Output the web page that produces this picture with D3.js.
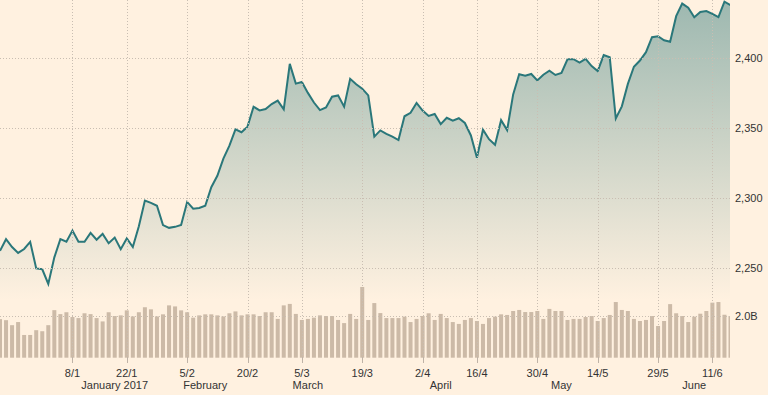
<!DOCTYPE html>
<html>
<head>
<meta charset="utf-8">
<title>S&amp;P 500</title>
<script src="https://cdn.jsdelivr.net/npm/d3@7"></script>
<style>
  html, body { margin: 0; padding: 0; background: #fff1e0; }
  svg { display: block; }
  text { font-family: "Liberation Sans", Arial, sans-serif; font-size: 11px; fill: #333; }
  .grid line { stroke: #c9beb2; stroke-width: 1; stroke-dasharray: 1,2; }
</style>
</head>
<body>
<svg id="chart" width="768" height="395"></svg>
<script>
// trading days shown on the chart
var dates = [
  "2016-12-19","2016-12-20","2016-12-21","2016-12-22","2016-12-23","2016-12-27","2016-12-28","2016-12-29","2016-12-30",
  "2017-01-03","2017-01-04","2017-01-05","2017-01-06","2017-01-09","2017-01-10","2017-01-11","2017-01-12","2017-01-13",
  "2017-01-17","2017-01-18","2017-01-19","2017-01-20","2017-01-23","2017-01-24","2017-01-25","2017-01-26","2017-01-27",
  "2017-01-30","2017-01-31","2017-02-01","2017-02-02","2017-02-03","2017-02-06","2017-02-07","2017-02-08","2017-02-09",
  "2017-02-10","2017-02-13","2017-02-14","2017-02-15","2017-02-16","2017-02-17","2017-02-21","2017-02-22","2017-02-23",
  "2017-02-24","2017-02-27","2017-02-28","2017-03-01","2017-03-02","2017-03-03","2017-03-06","2017-03-07","2017-03-08",
  "2017-03-09","2017-03-10","2017-03-13","2017-03-14","2017-03-15","2017-03-16","2017-03-17","2017-03-20","2017-03-21",
  "2017-03-22","2017-03-23","2017-03-24","2017-03-27","2017-03-28","2017-03-29","2017-03-30","2017-03-31","2017-04-03",
  "2017-04-04","2017-04-05","2017-04-06","2017-04-07","2017-04-10","2017-04-11","2017-04-12","2017-04-13","2017-04-17",
  "2017-04-18","2017-04-19","2017-04-20","2017-04-21","2017-04-24","2017-04-25","2017-04-26","2017-04-27","2017-04-28",
  "2017-05-01","2017-05-02","2017-05-03","2017-05-04","2017-05-05","2017-05-08","2017-05-09","2017-05-10","2017-05-11",
  "2017-05-12","2017-05-15","2017-05-16","2017-05-17","2017-05-18","2017-05-19","2017-05-22","2017-05-23","2017-05-24",
  "2017-05-25","2017-05-26","2017-05-30","2017-05-31","2017-06-01","2017-06-02","2017-06-05","2017-06-06","2017-06-07",
  "2017-06-08","2017-06-09","2017-06-12","2017-06-13","2017-06-14"
];

// index close
var closes = [
  2262.5,2270.8,2265.2,2261.0,2263.8,2268.9,2249.9,2249.3,2238.8,
  2257.8,2270.8,2269.0,2277.0,2268.9,2268.9,2275.3,2270.4,2274.6,
  2267.9,2271.9,2263.7,2271.3,2265.2,2280.1,2298.4,2296.7,2294.7,
  2280.9,2278.9,2279.6,2280.9,2297.4,2292.6,2293.1,2294.7,2307.9,
  2316.1,2328.3,2337.6,2349.3,2347.2,2351.2,2365.4,2362.8,2363.8,
  2367.3,2369.8,2363.6,2396.0,2381.9,2383.1,2375.3,2368.4,2363.0,
  2364.9,2372.6,2373.5,2365.5,2385.3,2381.4,2378.3,2373.5,2344.0,
  2348.5,2346.0,2344.0,2341.6,2358.6,2361.1,2368.1,2362.7,2358.8,
  2360.2,2353.0,2357.5,2355.5,2357.2,2353.8,2344.9,2329.0,2349.0,
  2342.2,2338.2,2355.8,2348.7,2374.2,2388.6,2387.5,2388.8,2384.2,
  2388.3,2391.2,2388.1,2389.5,2399.3,2399.4,2396.9,2399.6,2394.4,
  2390.9,2402.3,2400.7,2357.0,2365.7,2381.7,2394.0,2398.4,2404.4,
  2415.1,2415.8,2412.9,2411.8,2430.1,2439.1,2436.1,2429.3,2433.1,
  2433.8,2431.8,2429.4,2440.4,2437.9
];

// volume, billions of shares
var volumes = [
  1.85,1.80,1.56,1.71,1.09,1.09,1.32,1.27,1.56,
  2.28,2.09,2.18,1.95,1.90,2.13,2.09,1.90,1.74,
  2.18,2.00,2.03,2.27,1.98,2.18,2.42,2.32,1.98,
  2.08,2.51,2.46,2.27,2.18,1.92,2.03,2.08,2.08,
  2.03,1.98,2.13,2.22,2.03,2.08,2.08,2.00,2.18,
  2.18,1.86,2.51,2.58,2.10,1.81,1.86,1.92,2.03,
  2.00,2.00,1.81,1.66,2.10,1.86,3.39,1.81,2.62,
  2.14,1.90,1.90,1.90,1.97,1.71,1.86,2.00,2.13,
  1.81,2.10,1.90,1.71,1.62,1.81,1.90,1.76,1.62,
  1.90,1.97,2.08,2.05,2.24,2.29,2.19,2.19,2.24,
  1.86,2.34,2.24,2.24,1.81,1.86,1.86,1.95,2.00,
  1.76,1.90,2.05,2.67,2.29,2.24,1.86,1.76,1.81,
  2.00,1.52,1.76,2.57,2.13,2.00,1.71,1.97,2.11,
  2.24,2.64,2.67,2.06,2.00
];

var tickDates = ["2017-01-08","2017-01-22","2017-02-05","2017-02-20","2017-03-05","2017-03-19",
                 "2017-04-02","2017-04-16","2017-04-30","2017-05-14","2017-05-29","2017-06-11"];
var tickLabels = ["8/1","22/1","5/2","20/2","5/3","19/3","2/4","16/4","30/4","14/5","29/5","11/6"];

var monthLabels = ["January 2017","February","March","April","May","June"];
var monthAnchors = ["2017-01-18","2017-02-08","2017-03-06","2017-04-05","2017-05-04","2017-06-06"];

var priceTicks = [2250, 2300, 2350, 2400];
var volumeTicks = [2.0];

var plotRight = 730;

var svg = d3.select("#chart");

// x is a trading-day index scale
var x = d3.scaleLinear().domain([0, dates.length - 1]).range([0, 730.5]);
var y = d3.scaleLinear().domain([2250, 2450]).range([268.3, -11.7]);
var yVol = d3.scaleLinear().domain([0, 2]).range([357.7, 316]);

// last trading day on or before a calendar date
function dayIndex(d) {
  return d3.bisectRight(dates, d) - 1;
}

var defs = svg.append("defs");
defs.append("clipPath").attr("id", "plotClip")
  .append("rect").attr("x", 0).attr("y", 0).attr("width", plotRight).attr("height", 395);

var grad = defs.append("linearGradient").attr("id", "areaFill")
  .attr("gradientUnits", "userSpaceOnUse")
  .attr("x1", 0).attr("y1", 0).attr("x2", 0).attr("y2", 300);
grad.append("stop").attr("offset", 0).attr("stop-color", "#9db8b0");
grad.append("stop").attr("offset", 1).attr("stop-color", "#fff1e0");

var plot = svg.append("g").attr("clip-path", "url(#plotClip)");

// price area
var area = d3.area()
  .x(function(d, i) { return x(i); })
  .y0(300)
  .y1(function(d) { return y(d); });

plot.append("path")
  .datum(closes)
  .attr("d", area)
  .attr("fill", "url(#areaFill)");

// volume bars
plot.selectAll(".bar")
  .data(volumes)
  .enter().append("rect")
    .attr("class", "bar")
    .attr("x", function(d, i) { return x(i) - 2; })
    .attr("width", 4)
    .attr("y", function(d) { return yVol(d); })
    .attr("height", function(d) { return yVol(0) - yVol(d); })
    .attr("fill", "#ccbaa7");

// gridlines
var grid = svg.append("g").attr("class", "grid");
grid.selectAll(".hp")
  .data(priceTicks)
  .enter().append("line")
    .attr("x1", 0).attr("x2", plotRight)
    .attr("y1", function(d) { return Math.round(y(d)) + 0.5; })
    .attr("y2", function(d) { return Math.round(y(d)) + 0.5; });
grid.selectAll(".hv")
  .data(volumeTicks)
  .enter().append("line")
    .attr("x1", 0).attr("x2", plotRight)
    .attr("y1", function(d) { return Math.round(yVol(d)) + 0.5; })
    .attr("y2", function(d) { return Math.round(yVol(d)) + 0.5; });
grid.selectAll(".vx")
  .data(tickDates)
  .enter().append("line")
    .attr("x1", function(d) { return Math.round(x(dayIndex(d))) + 0.5; })
    .attr("x2", function(d) { return Math.round(x(dayIndex(d))) + 0.5; })
    .attr("y1", 0).attr("y2", 357);

// price line
var line = d3.line()
  .x(function(d, i) { return x(i); })
  .y(function(d) { return y(d); });

plot.append("path")
  .datum(closes)
  .attr("d", line)
  .attr("fill", "none")
  .attr("stroke", "#2a777a")
  .attr("stroke-width", 2);

// x axis ticks and labels
var xAxis = svg.append("g");
xAxis.selectAll(".tick")
  .data(tickDates)
  .enter().append("line")
    .attr("x1", function(d) { return Math.round(x(dayIndex(d))) + 0.5; })
    .attr("x2", function(d) { return Math.round(x(dayIndex(d))) + 0.5; })
    .attr("y1", 357).attr("y2", 363)
    .attr("stroke", "#bfb3a7");
xAxis.selectAll(".lab")
  .data(tickDates)
  .enter().append("text")
    .attr("x", function(d) { return x(dayIndex(d)); })
    .attr("y", 376.5)
    .attr("text-anchor", "middle")
    .text(function(d, i) { return tickLabels[i]; });
xAxis.selectAll(".month")
  .data(monthAnchors)
  .enter().append("text")
    .attr("x", function(d) { return x(dayIndex(d)); })
    .attr("y", 388.5)
    .attr("text-anchor", "middle")
    .text(function(d, i) { return monthLabels[i]; });

// right-hand labels
var yAxis = svg.append("g");
yAxis.selectAll(".pl")
  .data(priceTicks)
  .enter().append("text")
    .attr("x", 735)
    .attr("y", function(d) { return y(d) + 4; })
    .text(function(d) { return d3.format(",")(d); });
yAxis.selectAll(".vl")
  .data(volumeTicks)
  .enter().append("text")
    .attr("x", 735)
    .attr("y", function(d) { return yVol(d) + 4; })
    .text(function(d) { return d3.format(".1f")(d) + "B"; });
</script>
</body>
</html>
